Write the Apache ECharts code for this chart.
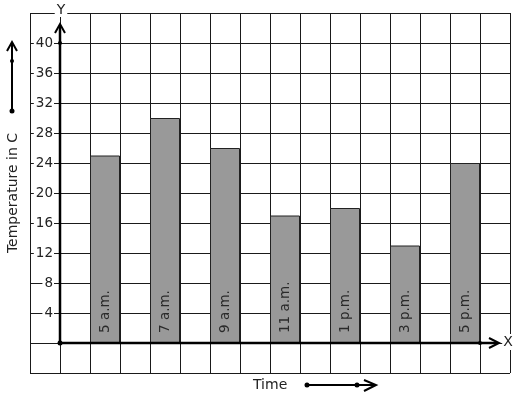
<!DOCTYPE html>
<html>
<head>
<meta charset="utf-8">
<script src="https://cdn.jsdelivr.net/npm/echarts@6/dist/echarts.min.js"></script>
<style>
html,body{margin:0;padding:0;background:#fff;}
#chart{width:517px;height:399px;}
</style>
</head>
<body>
<div id="chart"></div>
<script>
// Data
const categories = ['5 a.m.', '7 a.m.', '9 a.m.', '11 a.m.', '1 p.m.', '3 p.m.', '5 p.m.'];
const temperatures = [25, 30, 26, 17, 18, 13, 24];
const yTickLabels = [4, 8, 12, 16, 20, 24, 28, 32, 36, 40];
const yTitle = 'Temperature in C';
const xTitle = 'Time';

// Build 16 grid slots: two empty slots, then (bar, gap) pairs
const slots = ['', ''];
const slotValues = ['-', '-'];
categories.forEach((c, i) => {
  slots.push(c, ' ' + i);
  slotValues.push(temperatures[i], '-');
});

const FONT = 'DejaVu Sans';
const chart = echarts.init(document.getElementById('chart'), null, {renderer: 'canvas'});

const black = '#000';
function chevron(points) {
  return {type: 'polyline', shape: {points: points}, style: {stroke: black, lineWidth: 2, fill: null}, z: 100};
}
function dot(x, y, r) {
  return {type: 'circle', shape: {cx: x, cy: y, r: r}, style: {fill: black}, z: 101};
}
function line(x1, y1, x2, y2, w) {
  return {type: 'line', shape: {x1: x1, y1: y1, x2: x2, y2: y2}, style: {stroke: black, lineWidth: w || 2}, z: 100};
}

chart.setOption({
  animation: false,
  backgroundColor: '#fff',
  grid: {left: 30, top: 13, width: 480, height: 360, show: false},
  xAxis: {
    type: 'category',
    data: slots,
    boundaryGap: true,
    axisLine: {show: false},
    axisTick: {show: false},
    axisLabel: {show: false},
    splitLine: {show: true, interval: 0, lineStyle: {color: '#1a1a1a', width: 1}}
  },
  yAxis: {
    type: 'value',
    min: -4,
    max: 44,
    interval: 4,
    offset: -30,
    axisLine: {show: false},
    axisTick: {show: false},
    splitLine: {show: true, lineStyle: {color: '#1a1a1a', width: 1}},
    axisLabel: {
      margin: 6,
      fontFamily: FONT,
      fontSize: 13.5,
      color: '#222',
      backgroundColor: '#fff',
      padding: [0, 1, 0, 2],
      formatter: function (v) { return yTickLabels.indexOf(v) >= 0 ? String(v) : ''; }
    }
  },
  series: [{
    type: 'bar',
    data: slotValues,
    barWidth: '100%',
    itemStyle: {color: '#999999', borderColor: '#222', borderWidth: 1},
    z: 5,
    label: {
      show: true,
      position: 'insideBottom',
      distance: 10,
      rotate: 90,
      align: 'left',
      verticalAlign: 'middle',
      fontFamily: FONT,
      fontSize: 13.5,
      color: '#2a2a2a',
      formatter: function (p) { return p.name; }
    }
  }],
  graphic: [
    // Y axis
    line(60, 343, 60, 26, 2.5),
    chevron([[55, 33], [60, 24], [65, 33]]),
    dot(60, 43, 2),
    dot(60, 343, 2.5),
    {type: 'text', x: 61, y: 10, style: {text: 'Y', fontFamily: FONT, fontSize: 14, fill: '#222', align: 'center', verticalAlign: 'middle', backgroundColor: '#fff', padding: [0, 2]}, z: 102},
    // X axis
    line(60, 343, 497, 343, 2.5),
    chevron([[489, 338], [499, 343], [489, 348]]),
    dot(480, 343, 2),
    {type: 'text', x: 508, y: 342, style: {text: 'X', fontFamily: FONT, fontSize: 14, fill: '#222', align: 'center', verticalAlign: 'middle', backgroundColor: '#fff', padding: [1, 1]}, z: 102},
    // Left decorative arrow
    line(12, 111, 12, 44, 2),
    chevron([[7, 51], [12, 42], [17, 51]]),
    dot(12, 61, 2),
    dot(12, 111, 2.5),
    {type: 'text', x: 13, y: 193, rotation: Math.PI / 2, style: {text: yTitle, fontFamily: FONT, fontSize: 14, fill: '#222', align: 'center', verticalAlign: 'middle'}, z: 102},
    // Bottom title and arrow
    {type: 'text', x: 253, y: 385, style: {text: xTitle, fontFamily: FONT, fontSize: 14, fill: '#222', align: 'left', verticalAlign: 'middle'}, z: 102},
    line(307, 385, 375, 385, 2),
    chevron([[364, 380], [376, 385], [364, 391]]),
    dot(307, 385, 2.5),
    dot(357, 385, 2.5)
  ]
});
</script>
</body>
</html>
